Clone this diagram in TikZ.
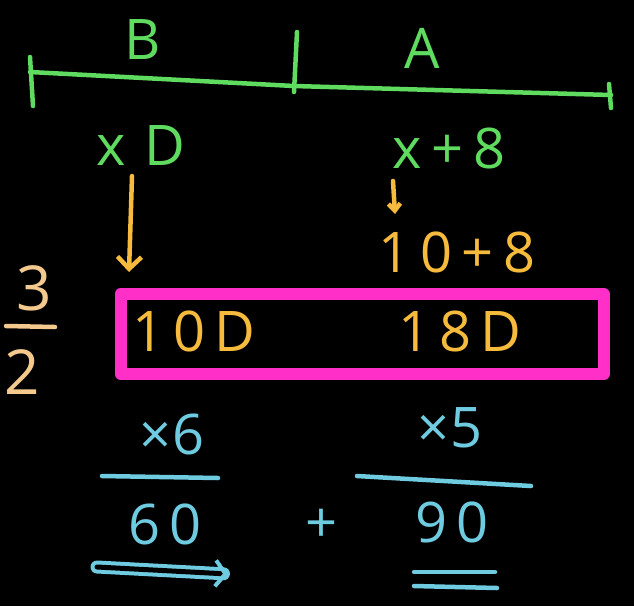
\documentclass[tikz,border=0pt]{standalone}
\usepackage{fontspec}
\setmainfont{Open Sans}
\usetikzlibrary{arrows.meta}
\definecolor{chalkgreen}{HTML}{5FDB5F}
\definecolor{chalkorange}{HTML}{F6BA3C}
\definecolor{chalkpink}{HTML}{FF2FC8}
\definecolor{chalkblue}{HTML}{6FCBE0}
\definecolor{chalkpeach}{HTML}{F3C98E}
\tikzset{
  gtext/.style={text=chalkgreen,font=\fontsize{56}{60}\selectfont,inner sep=0pt},
  otext/.style={text=chalkorange,font=\fontsize{56}{60}\selectfont,inner sep=0pt},
  btext/.style={text=chalkblue,font=\fontsize{56}{60}\selectfont,inner sep=0pt},
  gline/.style={draw=chalkgreen,line width=4.5pt,line cap=round,line join=round},
  oline/.style={draw=chalkorange,line width=4.5pt,line cap=round,line join=round},
  bline/.style={draw=chalkblue,line width=4.5pt,line cap=round,line join=round},
  pbox/.style={draw=chalkpink,line width=12pt,line join=round}
}
\begin{document}
\begin{tikzpicture}[x=1pt,y=-1pt]
\fill[black] (0,0) rectangle (634,606);
\useasboundingbox (0,0) rectangle (634,606);
% number line
\coordinate (L) at (30,72);
\coordinate (M) at (294,86);
\coordinate (R) at (611,95);
\draw[gline] (L) -- (M) -- (R);
\coordinate (Lt) at (30,57); \coordinate (Lb) at (33,106);
\coordinate (Mt) at (297,32); \coordinate (Mb) at (294,92);
\coordinate (Rt) at (609,84); \coordinate (Rb) at (611,108);
\draw[gline] (Lt) -- (Lb);
\draw[gline] (Mt) -- (Mb);
\draw[gline] (Rt) -- (Rb);
\node[gtext] (B) at (143,40) {B};
\node[gtext] (A) at (422,48) {A};
\node[gtext] (xD) at (141,146) {x\,\,D};
\node[gtext] (x8) at (449,148) {x\,+\,8};
% orange
\node[otext] (t108) at (457,252) {1\,0\,+\,8};
\coordinate (a0) at (132,176);
\coordinate (a1) at (129,272);
\draw[oline,-{Straight Barb[length=12pt,width=24pt]}] (a0) -- (a1);
\coordinate (b0) at (393,181);
\coordinate (b1) at (395,214);
\draw[oline,-{Straight Barb[length=7pt,width=12pt]}] (b0) -- (b1);
% fraction
\node[text=chalkpeach,font=\fontsize{62}{66}\selectfont,inner sep=0pt] (three) at (34,288) {3};
\coordinate (f0) at (6,326); \coordinate (f1) at (55,327);
\draw[draw=chalkpeach,line width=4.5pt,line cap=round] (f0) -- (f1);
\node[text=chalkpeach,font=\fontsize{62}{66}\selectfont,inner sep=0pt] (two) at (22,372) {2};
% pink box
\node[pbox,minimum width=483pt,minimum height=80pt,inner sep=0pt] (box) at (362,334) {};
\node[otext] (t10D) at (194,331) {1\,0\,D};
\node[otext] (t18D) at (460,331) {1\,8\,D};
% blue
\node[btext] (m6) at (172,434) {×6};
\node[btext] (m5) at (450,428) {×5};
\coordinate (u0) at (102,476); \coordinate (u1) at (218,478);
\draw[bline] (u0) -- (u1);
\coordinate (v0) at (357,476); \coordinate (v1) at (531,486);
\draw[bline] (v0) -- (v1);
\node[btext] (s60) at (165,524) {6\,0};
\node[btext] (plus) at (322,526) {+};
\node[btext] (s90) at (452,522) {9\,0};
\coordinate (d0) at (97,567); \coordinate (d1) at (228,574);
\draw[draw=chalkblue,line width=4pt,double=black,double distance=5pt,line cap=round,-{Straight Barb[length=10pt,width=26pt,line width=4pt]}] (d0) -- (d1);
\coordinate (e0) at (414,572); \coordinate (e1) at (495,572);
\coordinate (e2) at (414,586); \coordinate (e3) at (497,588);
\draw[bline] (e0) -- (e1);
\draw[bline] (e2) -- (e3);
\end{tikzpicture}
\end{document}
